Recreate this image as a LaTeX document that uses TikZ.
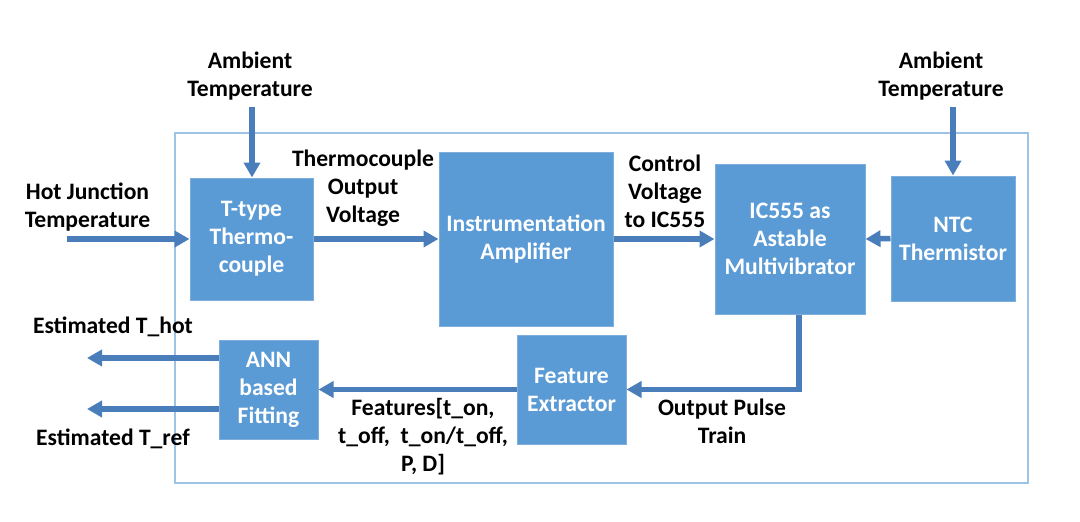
\documentclass[tikz,border=0pt]{standalone}
\usepackage{fontspec}
\setmainfont{Carlito}
\usetikzlibrary{arrows.meta}
\definecolor{boxblue}{HTML}{5B9BD5}
\definecolor{boxedge}{HTML}{7EAEDC}
\definecolor{arrowblue}{HTML}{4A7EBB}
\definecolor{frameblue}{HTML}{9DC3E6}
\tikzset{
	block/.style={draw=boxedge, line width=1pt, fill=boxblue, text=white, align=center, inner sep=0pt},
	lbl/.style={align=center, inner sep=0pt, text=black},
	flow/.style={draw=arrowblue, line width=5.5pt, -{Triangle[length=15pt,width=16pt]}}
}
\begin{document}
\begin{tikzpicture}[x=1pt, y=-1pt, font=\fontsize{23.6}{28}\selectfont\bfseries]
	\useasboundingbox (0,0) rectangle (1080,522);
	\draw[frameblue, line width=1.2pt] (175,133) rectangle (1028,483);

	\node[block, minimum width=123, minimum height=122] at (251.5, 239) (tc)	{T-type\\Thermo-\\couple};
	\node[block, minimum width=174, minimum height=174] at (526, 239) (amp)	{Instrumentation\\Amplifier};
	\node[block, minimum width=150, minimum height=150] at (790, 239) (ic)	{IC555 as\\Astable\\Multivibrator};
	\node[block, minimum width=124, minimum height=125] at (953, 238.5) (ntc)	{NTC\\Thermistor};
	\node[block, minimum width=109, minimum height=109] at (571.5, 389.5) (fe)	{Feature\\Extractor};
	\node[block, minimum width=99, minimum height=99] at (268.5, 389.5) (ann)	{ANN\\based\\Fitting};

	\node[lbl] at (250, 76) (ambL)	{Ambient\\Temperature};
	\node[lbl] at (941, 76) (ambR)	{Ambient\\Temperature};
	\node[lbl] at (87.5, 207) (hot)	{Hot Junction\\Temperature};
	\node[lbl] at (363, 188) (tcv)	{Thermocouple\\Output\\Voltage};
	\node[lbl] at (665, 191) (ctl)	{Control\\Voltage\\to IC555};
	\node[lbl] at (722, 421) (pulse)	{Output Pulse\\Train};
	\node[lbl] at (423, 437) (feat)	{Features[t\_on,\\t\_off,~ t\_on/t\_off,\\P, D]};
	\node[lbl] at (113, 327) (esth)	{Estimated T\_hot};
	\node[lbl] at (113, 439) (estr)	{Estimated T\_ref};

	\coordinate (hotin) at (67, 239);
	\coordinate (ambLin) at (252, 107);
	\coordinate (ambRin) at (953, 107);
	\coordinate (hotout) at (87, 358);
	\coordinate (refout) at (87, 409);

	\draw[flow] (hotin) -- (tc.west);
	\draw[flow] (ambLin) -- (ambLin |- tc.north);
	\draw[flow] (ambRin) -- (ntc.north);
	\draw[flow] (tc.east) -- (amp.west);
	\draw[flow] (amp.east) -- (ic.west);
	\draw[flow] (ntc.west) -- (ic.east);
	\draw[flow] ([xshift=9]ic.south) |- (fe.east);
	\draw[flow] (fe.west) -- (ann.east);
	\draw[flow] (ann.west |- hotout) -- (hotout);
	\draw[flow] (ann.west |- refout) -- (refout);
\end{tikzpicture}
\end{document}
